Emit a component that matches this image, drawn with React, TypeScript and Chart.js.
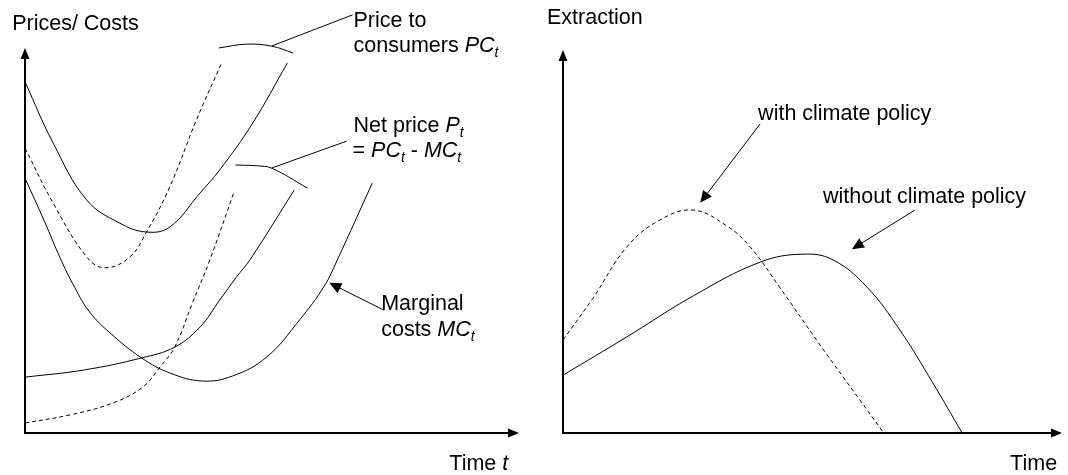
import React, { useEffect, useRef } from 'react';
import { Chart, registerables } from 'chart.js';

Chart.register(...registerables);

// ---------- Left panel: prices / costs over time ----------
const pcNoPolicyX = [0, 5.7, 12.5, 19.2, 24.6, 29.3, 35.4, 39.4, 46.1, 53.1];
const pcNoPolicyY = [91.2, 75.3, 60.5, 54.5, 52.2, 53.5, 62.3, 68.3, 80.5, 96.1];

const pcPolicyX = [0, 5.7, 12.5, 16.2, 21.2, 24.6, 29.3, 34.7, 39.8];
const pcPolicyY = [74.0, 59.7, 45.7, 42.9, 45.7, 52.2, 63.9, 81.3, 96.1];

const mcX = [0, 4.0, 7.1, 10.1, 13.1, 17.2, 23.6, 29.3, 35.9, 42.0, 48.9, 55.6, 60.6, 63.2, 70.3];
const mcY = [66.2, 54.8, 45.5, 37.7, 31.4, 26.0, 19.5, 15.6, 13.5, 14.8, 19.7, 29.4, 38.2, 44.9, 64.9];

const netNoPolicyX = [0, 12.1, 23.6, 30.3, 35.4, 39.4, 42.8, 45.5, 54.5];
const netNoPolicyY = [14.5, 16.4, 19.5, 22.3, 27.5, 34.5, 40.5, 44.9, 63.1];

const netPolicyX = [0, 9.1, 17.8, 23.8, 27.3, 30.3, 33.9, 37.4, 42.4];
const netPolicyY = [2.6, 4.7, 7.8, 11.9, 17.1, 22.3, 33.8, 44.9, 62.9];

const pcBraceX = [39.2, 44.8, 49.9, 54.3];
const pcBraceY = [100.0, 101.0, 100.5, 98.7];

const netBraceX = [42.6, 46.9, 49.9, 57.2];
const netBraceY = [69.6, 69.4, 68.8, 63.6];

// ---------- Right panel: extraction over time ----------
const extPolicyX = [0, 6.0, 12.8, 19.4, 26.1, 32.9, 37.5, 43.5, 51.5, 59.5, 64.3];
const extPolicyY = [24.3, 35.2, 48.6, 55.6, 58.2, 54.0, 48.6, 37.9, 23.0, 8.6, 0];

const extNoPolicyX = [0, 12.8, 26.1, 39.5, 48.1, 54.1, 60.9, 67.5, 74.1, 80.0];
const extNoPolicyY = [15.1, 25.1, 35.8, 44.6, 46.7, 45.2, 38.1, 26.9, 13.1, 0];

type Run = { text: string; italic?: boolean; sub?: boolean };
type Label = { x: number; y: number; runs: Run[] };
type Leader = { x1: number; y1: number; x2: number; y2: number; arrow?: boolean };

const leftLabels: Label[] = [
  { x: -2.6, y: 104.7, runs: [{ text: 'Prices/ Costs' }] },
  { x: 66.5, y: 105.5, runs: [{ text: 'Price to' }] },
  { x: 66.5, y: 99.0, runs: [{ text: 'consumers ' }, { text: 'PC', italic: true }, { text: 't', italic: true, sub: true }] },
  { x: 66.5, y: 78.2, runs: [{ text: 'Net price ' }, { text: 'P', italic: true }, { text: 't', italic: true, sub: true }] },
  {
    x: 66.3, y: 71.7, runs: [
      { text: '= ' }, { text: 'PC', italic: true }, { text: 't', italic: true, sub: true },
      { text: ' - ' }, { text: 'MC', italic: true }, { text: 't', italic: true, sub: true },
    ],
  },
  { x: 72.1, y: 31.9, runs: [{ text: 'Marginal' }] },
  { x: 72.1, y: 25.2, runs: [{ text: 'costs ' }, { text: 'MC', italic: true }, { text: 't', italic: true, sub: true }] },
  { x: 85.9, y: -9.6, runs: [{ text: 'Time ' }, { text: 't', italic: true }] },
];

const leftLeaders: Leader[] = [
  { x1: 49.9, y1: 100.5, x2: 66.3, y2: 108.6 },
  { x1: 49.9, y1: 68.8, x2: 65.1, y2: 75.8 },
  { x1: 72.7, y1: 31.9, x2: 61.6, y2: 39.0, arrow: true },
];

const rightLabels: Label[] = [
  { x: -3.2, y: 106.8, runs: [{ text: 'Extraction' }] },
  { x: 39.1, y: 81.7, runs: [{ text: 'with climate policy' }] },
  { x: 52.1, y: 60.1, runs: [{ text: 'without climate policy' }] },
  { x: 89.6, y: -9.7, runs: [{ text: 'Time' }] },
];

const rightLeaders: Leader[] = [
  { x1: 39.5, y1: 80.7, x2: 27.5, y2: 60.1, arrow: true },
  { x1: 70.5, y1: 58.2, x2: 57.9, y2: 48.0, arrow: true },
];

const FONT = '"Liberation Sans", Arial, sans-serif';

function arrowHead(ctx: CanvasRenderingContext2D, tx: number, ty: number, fx: number, fy: number, len: number, half: number) {
  const ang = Math.atan2(ty - fy, tx - fx);
  ctx.beginPath();
  ctx.moveTo(tx, ty);
  ctx.lineTo(tx - len * Math.cos(ang) + half * Math.sin(ang), ty - len * Math.sin(ang) - half * Math.cos(ang));
  ctx.lineTo(tx - len * Math.cos(ang) - half * Math.sin(ang), ty - len * Math.sin(ang) + half * Math.cos(ang));
  ctx.closePath();
  ctx.fill();
}

const diagramPlugin = {
  id: 'diagram',
  afterDatasetsDraw(chart: any, _args: any, opts: any) {
    const ctx: CanvasRenderingContext2D = chart.ctx;
    const xs = chart.scales.x;
    const ys = chart.scales.y;
    const X = (v: number) => xs.getPixelForValue(v);
    const Y = (v: number) => ys.getPixelForValue(v);
    const { left, right, top, bottom } = chart.chartArea;
    ctx.save();
    ctx.strokeStyle = '#000';
    ctx.fillStyle = '#000';
    // axes
    ctx.lineWidth = 2;
    ctx.beginPath();
    ctx.moveTo(left, bottom);
    ctx.lineTo(left, top + 8);
    ctx.moveTo(left - 1, bottom);
    ctx.lineTo(right - 8, bottom);
    ctx.stroke();
    arrowHead(ctx, left, top, left, bottom, 11, 4.5);
    arrowHead(ctx, right, bottom, left, bottom, 11, 4.5);
    // leaders
    ctx.lineWidth = 1;
    (opts.leaders || []).forEach((l: Leader) => {
      const x1 = X(l.x1), y1 = Y(l.y1), x2 = X(l.x2), y2 = Y(l.y2);
      ctx.beginPath();
      ctx.moveTo(x1, y1);
      if (l.arrow) {
        const ang = Math.atan2(y2 - y1, x2 - x1);
        ctx.lineTo(x2 - 8 * Math.cos(ang), y2 - 8 * Math.sin(ang));
      } else {
        ctx.lineTo(x2, y2);
      }
      ctx.stroke();
      if (l.arrow) arrowHead(ctx, x2, y2, x1, y1, 12, 5.5);
    });
    // labels
    ctx.textBaseline = 'alphabetic';
    ctx.textAlign = 'left';
    (opts.labels || []).forEach((lb: Label) => {
      let px = X(lb.x);
      const py = Y(lb.y);
      lb.runs.forEach((r) => {
        const size = r.sub ? 14 : 21.5;
        ctx.font = `${r.italic ? 'italic ' : ''}${size}px ${FONT}`;
        ctx.fillText(r.text, px, py + (r.sub ? 5 : 0));
        px += ctx.measureText(r.text).width;
      });
    });
    ctx.restore();
  },
};

function line(xv: number[], yv: number[], dashed: boolean) {
  return {
    data: xv.map((x, i) => ({ x, y: yv[i] })),
    borderColor: '#000',
    borderWidth: 1,
    borderDash: dashed ? [4, 3] : [],
    tension: 0.4,
    pointRadius: 0,
    fill: false,
    clip: false as const,
  };
}

function makeConfig(datasets: any[], padding: any, labels: Label[], leaders: Leader[]): any {
  return {
    type: 'line',
    data: { datasets },
    options: {
      animation: false,
      responsive: false,
      events: [],
      layout: { padding },
      scales: {
        x: { type: 'linear', min: 0, max: 100, display: false },
        y: { type: 'linear', min: 0, max: 100, display: false },
      },
      plugins: {
        legend: { display: false },
        tooltip: { enabled: false },
        diagram: { labels, leaders },
      },
    },
    plugins: [diagramPlugin],
  };
}

export default function App() {
  const leftRef = useRef<HTMLCanvasElement>(null);
  const rightRef = useRef<HTMLCanvasElement>(null);

  useEffect(() => {
    const left = new Chart(
      leftRef.current as HTMLCanvasElement,
      makeConfig(
        [
          line(pcNoPolicyX, pcNoPolicyY, false),
          line(pcPolicyX, pcPolicyY, true),
          line(mcX, mcY, false),
          line(netNoPolicyX, netNoPolicyY, false),
          line(netPolicyX, netPolicyY, true),
          line(pcBraceX, pcBraceY, false),
          line(netBraceX, netBraceY, false),
        ],
        { left: 25, right: 15, top: 48, bottom: 42 },
        leftLabels,
        leftLeaders,
      ),
    );
    const right = new Chart(
      rightRef.current as HTMLCanvasElement,
      makeConfig(
        [line(extPolicyX, extPolicyY, true), line(extNoPolicyX, extNoPolicyY, false)],
        { left: 29, right: 6, top: 50, bottom: 42 },
        rightLabels,
        rightLeaders,
      ),
    );
    return () => {
      left.destroy();
      right.destroy();
    };
  }, []);

  return (
    <div style={{ position: 'fixed', left: 0, top: 0, width: 1068, height: 475, background: '#fff' }}>
      <canvas ref={leftRef} width={534} height={475} style={{ position: 'absolute', left: 0, top: 0, width: 534, height: 475 }} />
      <canvas ref={rightRef} width={534} height={475} style={{ position: 'absolute', left: 534, top: 0, width: 534, height: 475 }} />
    </div>
  );
}
